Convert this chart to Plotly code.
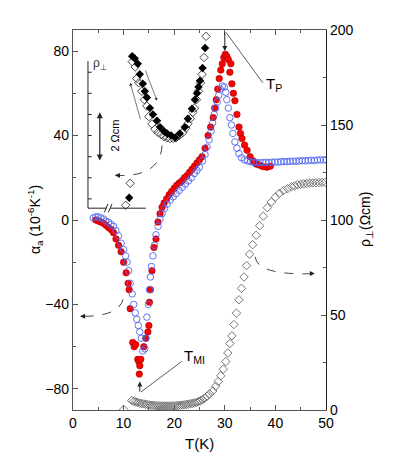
import plotly.graph_objects as go

# thermal expansion alpha_a, two sweeps (left axis)
red_T = [4.5, 5.0, 5.5, 6.0, 6.5, 7.0, 7.5, 8.0, 8.5, 9.0,
         9.5, 10.0, 10.5, 10.9, 11.1, 11.3, 11.8, 12.1, 12.4, 12.8,
         13.0, 13.2, 13.4, 13.1, 14.0, 14.4, 14.8, 15.0, 15.1, 15.3,
         15.6, 16.0, 16.4, 16.8, 17.2, 17.6, 18.0, 18.5, 19.0, 19.5,
         20.0, 20.5, 21.0, 21.5, 22.0, 22.5, 23.0, 23.5, 24.0, 24.5,
         25.0, 25.5, 26.1, 26.7, 27.2, 27.7, 28.0, 28.3, 28.6, 28.9,
         29.2, 29.5, 29.8, 30.1, 30.4, 30.7, 31.0, 31.2, 31.4, 31.7,
         32.0, 32.4, 32.8, 33.1, 33.4, 33.9, 34.4, 35.0, 35.6, 36.2,
         36.8, 37.5, 38.3, 39.0]
red_a = [0, -0.5, -1, -1.5, -2.5, -3.5, -4.5, -6, -9, -12,
         -15, -20, -25, -30, -33, -42, -58, -60, -59, -66,
         -67, -69, -66, -73, -60, -56, -53, -50, -39, -33,
         -24, -13, -9, -1, 3, 6, 8, 10, 12, 13.5,
         15, 16.5, 17.5, 18.5, 20, 21, 22.5, 24, 25.5, 27,
         28.5, 30, 34, 40, 44, 48.5, 53, 57, 62, 67,
         71, 74, 77, 78.5, 77.5, 76, 70, 74, 64.5, 60,
         56.5, 50, 44, 41, 38.6, 35.5, 33, 30, 28, 26.5,
         26, 25.3, 25, 25.5]

blue_T = [4.0, 4.5, 5.0, 5.5, 6.0, 6.5, 7.0, 7.5, 8.0, 8.5,
          9.0, 9.5, 10.0, 10.4, 10.7, 11.0, 11.3, 11.7, 12.0, 12.3,
          12.6, 12.9, 13.2, 13.5, 13.8, 14.2, 14.4, 14.6, 14.9, 15.1,
          15.3, 15.5, 15.8, 16.1, 16.4, 16.8, 17.2, 17.6, 18.1, 18.6,
          19.2, 19.8, 20.4, 21.0, 21.6, 22.2, 22.8, 23.4, 24.0, 24.5,
          25.0, 25.6, 26.1, 26.5, 26.9, 27.3, 27.6, 27.9, 28.2, 28.5,
          28.8, 29.1, 29.5, 29.9, 30.2, 30.4, 30.7, 31.0, 31.3, 31.6,
          32.0, 32.4, 32.8, 33.3, 33.9, 34.5, 35.1, 35.7, 36.3, 36.9,
          37.5, 38.1, 38.7, 39.3, 39.9, 40.5, 41.1, 41.7, 42.3, 42.9,
          43.5, 44.1, 44.7, 45.3, 45.9, 46.5, 47.1, 47.7, 48.3, 48.9,
          49.5, 50.0]
blue_a = [1, 1.5, 1.5, 1, 0.5, -0.5, -1, -2, -3, -5,
          -7.5, -11, -14, -17, -20, -24, -30, -35, -40, -44,
          -47, -50, -53, -56, -62, -61, -56, -46, -40, -33,
          -27, -22, -17, -12, -7, -3, 0.5, 3, 5.5, 7.5,
          9.5, 11, 12.5, 14, 15.5, 17, 18.5, 20, 22, 23.5,
          25, 28, 31, 34.5, 38, 42, 46, 50, 53, 56,
          59, 62, 63.5, 63, 60.5, 57, 53, 48.5, 45, 41,
          37, 34, 31.5, 29.5, 28.5, 28, 27.6, 27.3, 27.2, 27.1,
          27.2, 27.3, 27.2, 27.4, 27.5, 27.4, 27.6, 27.7, 27.6, 27.8,
          27.9, 27.8, 28, 28.1, 28, 28.2, 28.3, 28.2, 28.4, 28.5,
          28.4, 28.6]

# resistivity rho_perp (right axis)
rho_T = [10.0, 11.6, 12.0, 12.4, 12.8, 13.2, 13.6, 14.0, 14.4, 14.8,
         15.2, 15.6, 16.0, 16.4, 16.8, 17.2, 17.6, 18.0, 18.4, 18.8,
         19.2, 19.6, 20.0, 20.4, 20.8, 21.2, 21.6, 22.0, 22.4, 22.8,
         23.2, 23.6, 24.0, 24.4, 24.8, 25.2, 25.6, 26.0, 26.5, 27.0,
         27.6, 28.2, 28.7, 29.2, 29.7, 30.2, 30.6, 31.0, 31.4, 31.8,
         32.3, 32.8, 33.3, 33.8, 34.3, 34.9, 35.5, 36.2, 36.9, 37.6,
         38.4, 39.2, 40.0, 40.8, 41.6, 42.4, 43.2, 43.8, 44.4, 45.0,
         45.6, 46.2, 46.8, 47.4, 48.0, 48.6, 49.2, 49.8]
rho_v = [0.3, 5, 4.6, 4.2, 3.9, 3.6, 3.4, 3.2, 3.0, 2.8,
         2.6, 2.5, 2.4, 2.3, 2.2, 2.2, 2.1, 2.1, 2.1, 2.1,
         2.1, 2.2, 2.2, 2.3, 2.4, 2.5, 2.6, 2.7, 2.9, 3.1,
         3.3, 3.5, 3.7, 4.0, 4.4, 4.9, 5.5, 6.2, 7.2, 8.5,
         10, 12.5, 15, 18, 21.5, 25.5, 30, 35, 39, 45,
         51, 58, 64, 70, 76, 82, 87, 92, 97, 102,
         106.5, 109.5, 112, 114, 115.5, 116.5, 117.5, 118, 118.5, 118.8,
         119, 119.2, 119.4, 119.5, 119.6, 119.7, 119.8, 119.8]

# inset: rho_perp zoom (drawn in alpha coordinates)
ins_fill_T = [11.1, 11.7, 12.2, 12.8, 13.2, 13.8, 14.2, 14.6, 15.2, 15.8,
              16.6, 17.2, 18.0, 18.6, 19.4, 20.2, 21.1, 22.1, 22.7, 23.5,
              24.1, 24.5, 24.8, 25.1, 25.6, 26.1]
ins_fill_a = [10.5, 77.6, 76.5, 74, 69, 64.5, 61, 58, 53, 50,
              47, 44, 42, 41, 40, 39, 41, 44, 48, 52.7,
              57, 60, 63, 66, 72, 81.5]
ins_open_T = [10.4, 11.3, 11.7, 12.3, 12.6, 13.0, 13.6, 14.1, 14.6, 15.0,
              15.6, 16.2, 16.8, 17.4, 18.0, 18.6, 19.2, 19.8, 20.4, 21.0,
              21.7, 22.3, 22.7, 23.2, 23.7, 24.0, 24.4, 24.8, 25.2, 25.5,
              25.9, 26.3]
ins_open_a = [7, 17.4, 75, 72.5, 67, 65, 61, 57, 54, 49,
              45.5, 43, 41.5, 40.5, 39.5, 39, 38.6, 38.6, 39, 40,
              41.4, 43.5, 45.6, 48, 51, 53, 57, 61, 65, 69,
              77, 87]

FONT = "Arial, Liberation Sans, sans-serif"
AX = "#555555"

fig = go.Figure()
fig.add_trace(go.Scatter(x=red_T, y=red_a, mode="markers",
                         marker=dict(symbol="circle", size=6.5, color="#ff0000",
                                     line=dict(color="#a00000", width=0.6))))
fig.add_trace(go.Scatter(x=blue_T, y=blue_a, mode="markers",
                         marker=dict(symbol="circle-open", size=6.5, color="#5066f0",
                                     line=dict(width=0.9))))
fig.add_trace(go.Scatter(x=ins_open_T, y=ins_open_a, mode="markers",
                         marker=dict(symbol="diamond-open", size=6.5, color="#333333",
                                     line=dict(width=0.9))))
fig.add_trace(go.Scatter(x=ins_fill_T, y=ins_fill_a, mode="markers",
                         marker=dict(symbol="diamond", size=6.5, color="#000000")))
fig.add_trace(go.Scatter(x=rho_T, y=rho_v, mode="markers", yaxis="y2",
                         marker=dict(symbol="diamond-open", size=6.5, color="#666666",
                                     line=dict(width=0.9))))

shapes = []
line_k = dict(color="#222222", width=1)
# inset axes
shapes.append(dict(type="line", xref="x", yref="y", x0=2.96, y0=75.3, x1=2.96, y1=5.6, line=line_k))
shapes.append(dict(type="line", xref="x", yref="y", x0=2.96, y0=5.6, x1=6.6, y1=5.6, line=line_k))
shapes.append(dict(type="line", xref="x", yref="y", x0=7.4, y0=5.6, x1=14.4, y1=5.6, line=line_k))
shapes.append(dict(type="line", xref="x", yref="y", x0=6.2, y0=3.6, x1=6.9, y1=7.6, line=line_k))
shapes.append(dict(type="line", xref="x", yref="y", x0=7.0, y0=3.6, x1=7.7, y1=7.6, line=line_k))
for ta in [70, 60, 50, 40, 30, 20, 10]:
    shapes.append(dict(type="line", xref="x", yref="y", x0=2.96, y0=ta, x1=3.7, y1=ta, line=line_k))
# curved guide arrows
curve = dict(color="#444444", width=1, dash="dash")
shapes.append(dict(type="path", xref="x", yref="y", path="M 9.9,-37.6 Q 8.9,-46 1.4,-45.6", line=curve))
shapes.append(dict(type="path", xref="x", yref="y", path="M 36,-17.4 Q 36.4,-26.4 47.8,-25.4", line=curve))
shapes.append(dict(type="path", xref="x", yref="y", path="M 17.6,35.3 Q 17.2,19.8 8.3,21.2", line=curve))
# T_P and T_MI leader lines
shapes.append(dict(type="line", xref="x", yref="y", x0=30.2, y0=89, x1=37.5, y1=65, line=dict(color="#333", width=0.8)))
shapes.append(dict(type="line", xref="x", yref="y", x0=13.4, y0=-81.5, x1=21.5, y1=-67, line=dict(color="#333", width=0.8)))


def arrow(x0, y0, x1, y1, side="end", w=1, size=1.0):
    return dict(x=x1, y=y1, ax=x0, ay=y0, xref="x", yref="y", axref="x", ayref="y",
                text="", showarrow=True, arrowhead=2, arrowsize=size, arrowwidth=w,
                arrowside=side, arrowcolor="#222222")


title_font = dict(family=FONT, size=14, color="black")
annotations = [
    arrow(2.6, -45.6, 1.4, -45.6),
    arrow(46.6, -25.4, 47.8, -25.4),
    arrow(9.3, 21.1, 8.3, 21.2),
    arrow(14.2, 71.5, 16.6, 56.5, w=0.6),
    arrow(13.4, 47, 11.3, 65, w=0.6),
    arrow(5.3, 51.8, 5.3, 28.2, side="end+start", w=1.2),
    arrow(30.0, 89.4, 30.0, 80),
    arrow(13.2, -82, 13.2, -76.5),
    dict(x=8.3, y=40, xref="x", yref="y", text="2 \u03a9cm", showarrow=False, textangle=-90,
         font=dict(family=FONT, size=11, color="black")),
    dict(x=5.4, y=74, xref="x", yref="y", text="\u03c1<sub>\u22a5</sub>", showarrow=False,
         font=dict(family=FONT, size=12, color="#333")),
    dict(x=37.8, y=64, xref="x", yref="y", xanchor="left", text="T<sub>P</sub>", showarrow=False,
         font=dict(family=FONT, size=15, color="black")),
    dict(x=21.5, y=-64.5, xref="x", yref="y", xanchor="left", text="T<sub>MI</sub>", showarrow=False,
         font=dict(family=FONT, size=15, color="black")),
    # axis titles
    dict(x=0, y=0.5, xref="paper", yref="paper", xanchor="center", yanchor="middle", xshift=-38,
         text="\u03b1<sub>a</sub> (10<sup>-6</sup>K<sup>-1</sup>)",
         showarrow=False, textangle=-90, font=title_font),
    dict(x=1, y=0.5, xref="paper", yref="paper", xanchor="center", yanchor="middle", xshift=40,
         text="\u03c1<sub>\u22a5</sub>(\u03a9cm)",
         showarrow=False, textangle=-90, font=title_font),
    dict(x=0.5, y=0, xref="paper", yref="paper", xanchor="center", yanchor="middle", yshift=-33,
         text="T(K)", showarrow=False, font=dict(family=FONT, size=15, color="black")),
]

tickfont = dict(family=FONT, size=14, color="black")
# page body adds an 8px offset, so the figure is 8px smaller than the window
fig.update_layout(
    width=391, height=463,
    margin=dict(l=65, r=73, t=22, b=61, autoexpand=False),
    plot_bgcolor="white", paper_bgcolor="white",
    showlegend=False,
    shapes=shapes, annotations=annotations,
    xaxis=dict(range=[0, 50], tickvals=[0, 10, 20, 30, 40, 50], ticks="inside", ticklen=5,
               tickcolor=AX, showline=True, linecolor=AX, linewidth=1.2, mirror="ticks",
               showgrid=False, zeroline=False, tickfont=tickfont, automargin=False,
               minor=dict(dtick=5, ticks="inside", ticklen=3, tickcolor=AX)),
    yaxis=dict(range=[-90, 90], tickvals=[-80, -40, 0, 40, 80], ticks="inside", ticklen=5,
               tickcolor=AX, showline=True, linecolor=AX, linewidth=1.2,
               showgrid=False, zeroline=False, tickfont=tickfont, automargin=False,
               minor=dict(dtick=20, ticks="inside", ticklen=3, tickcolor=AX)),
    yaxis2=dict(range=[0, 200], tickvals=[0, 50, 100, 150, 200], ticks="inside", ticklen=5,
                overlaying="y", side="right", automargin=False,
                tickcolor=AX, showline=True, linecolor="#222", linewidth=1.2,
                showgrid=False, zeroline=False, tickfont=tickfont,
                minor=dict(dtick=25, ticks="inside", ticklen=3, tickcolor=AX)),
)

fig.write_html("out.html")
